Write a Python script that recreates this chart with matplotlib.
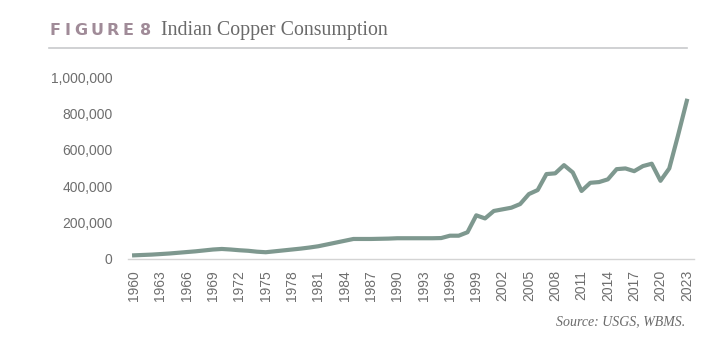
import numpy as np
import matplotlib.pyplot as plt
from matplotlib.ticker import FuncFormatter

# 数据
years = list(range(1960, 2024))
consumption = [
    20000, 22000, 24000, 27000, 30000, 34000, 38000, 42000, 47000, 52000,   # 1960-1969
    55000, 52000, 48000, 45000, 40000, 37000, 42000, 47000, 52000, 57000,   # 1970-1979
    63000, 70000, 80000, 90000, 100000, 110000, 110000, 110000, 111000, 112000,  # 1980-1989
    114000, 114000, 114000, 114000, 114000, 115000, 128000, 128000, 147000, 240000,  # 1990-1999
    223000, 264000, 273000, 282000, 302000, 357000, 379000, 467000, 471000, 516000,  # 2000-2009
    476000, 374000, 419000, 423000, 438000, 494000, 498000, 483000, 511000, 524000,  # 2010-2019
    430000, 498000, 680000, 870000,  # 2020-2023
]
tick_years = list(range(1960, 2024, 3))
y_ticks = [0, 200000, 400000, 600000, 800000, 1000000]

title_tag = "FIGURE 8"
title_text = "Indian Copper Consumption"
source_text = "Source: USGS, WBMS."

line_color = '#7e988f'
label_color = '#6e6e6e'

W, H = 719, 343
fig = plt.figure(figsize=(W / 100, H / 100), dpi=100)
ax = fig.add_axes([0.178, 0.245, 0.787, 0.53])

ax.plot(years, consumption, color=line_color, linewidth=3.0, solid_joinstyle='round')

ax.set_xlim(1959.3, 2023.8)
ax.set_ylim(0, 1000000)
ax.set_yticks(y_ticks)
ax.yaxis.set_major_formatter(FuncFormatter(lambda v, p: f'{int(v):,}'))
ax.set_xticks(tick_years)
ax.set_xticklabels([str(y) for y in tick_years], rotation=90)

for s in ['top', 'right', 'left']:
    ax.spines[s].set_visible(False)
ax.spines['bottom'].set_color('#d4d4d4')
ax.spines['bottom'].set_linewidth(1.0)
ax.tick_params(axis='both', length=0, labelsize=10, labelcolor=label_color, pad=8)
ax.tick_params(axis='y', pad=11)
for lab in ax.get_xticklabels() + ax.get_yticklabels():
    lab.set_family('Liberation Sans')

# 标题: 字母间距加宽
tag_x = [55, 68, 81, 97, 113, 128, 146]
for ch, px in zip(title_tag.replace(' ', ''), tag_x):
    fig.text(px / W, 1 - 35 / H, ch, fontsize=11.5, fontweight='heavy', color='#a08b98',
             family='DejaVu Sans', ha='center', va='baseline')
fig.text(161 / W, 1 - 35 / H, title_text, fontsize=14.3, color='#6a6a6a',
         family='Liberation Serif', va='baseline')
fig.add_artist(plt.Line2D([49 / W, 687 / W], [1 - 48 / H, 1 - 48 / H], transform=fig.transFigure,
                          color='#c8cacc', linewidth=1.2))

# 来源
fig.text(685 / W, 1 - 325 / H, source_text, fontsize=10, style='italic', color='#6a6a6a',
         family='Liberation Serif', ha='right', va='baseline')

fig.savefig('out.png', dpi=100)
